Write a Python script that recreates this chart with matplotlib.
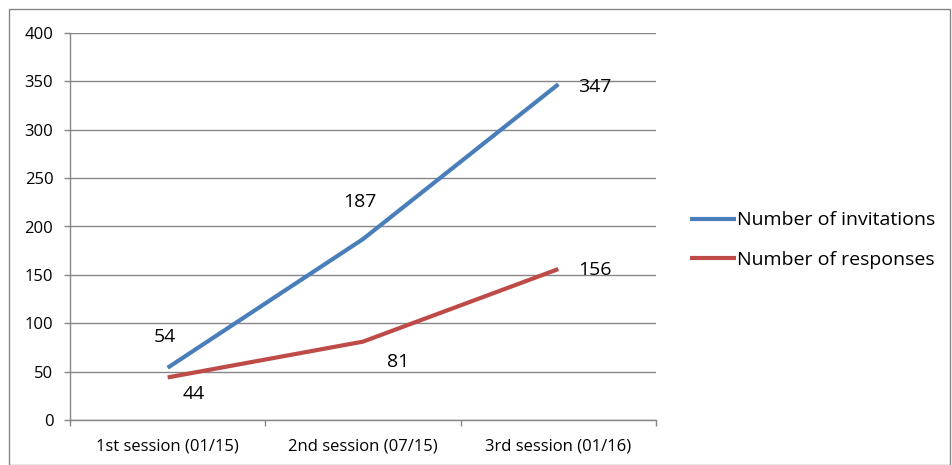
import numpy as np
import matplotlib.pyplot as plt
from matplotlib.patches import Rectangle

# Данные по сессиям
sessions = ['1st session (01/15)', '2nd session (07/15)', '3rd session (01/16)']
invitations = [54, 187, 347]
responses = [44, 81, 156]

blue = '#4A7EBB'
red = '#BE4B48'
grid_color = '#868686'

plt.rcParams['font.family'] = ['Open Sans', 'DejaVu Sans']

fig = plt.figure(figsize=(9.52, 4.65), dpi=100)
ax = fig.add_axes([70 / 952, 45 / 465, 586 / 952, 387 / 465])

x = np.arange(len(sessions))
ax.plot(x, invitations, color=blue, lw=3, solid_capstyle='butt', label='Number of invitations')
ax.plot(x, responses, color=red, lw=3, solid_capstyle='butt', label='Number of responses')

# Подписи значений
inv_offsets = [(-2, 22), (-2, 27), (26, -2)]
resp_offsets = [(19, -12), (25, -15), (26, -1)]
for xi, v, off in zip(x, invitations, inv_offsets):
    ax.annotate(str(v), (xi, v), xytext=off, textcoords='offset points',
                ha='center', va='center', fontsize=14)
for xi, v, off in zip(x, responses, resp_offsets):
    ax.annotate(str(v), (xi, v), xytext=off, textcoords='offset points',
                ha='center', va='center', fontsize=14)

ax.set_xlim(-0.5, 2.5)
ax.set_ylim(0, 400)
ax.set_yticks(range(0, 401, 50))
ax.set_xticks(x)
ax.set_xticklabels(sessions)
ax.set_xticks([-0.5, 0.5, 1.5, 2.5], minor=True)
ax.tick_params(axis='x', which='major', length=0, pad=13, labelsize=12)
ax.tick_params(axis='x', which='minor', length=4, color=grid_color, width=1)
ax.tick_params(axis='y', length=4, color=grid_color, width=1, labelsize=12, pad=8)

ax.grid(axis='y', color=grid_color, lw=1)
ax.set_axisbelow(True)
for side in ['top', 'right']:
    ax.spines[side].set_visible(False)
for side in ['left', 'bottom']:
    ax.spines[side].set_color(grid_color)
    ax.spines[side].set_linewidth(1)

ax.legend(loc='center left', bbox_to_anchor=(672 / 952, 225 / 465),
          bbox_transform=fig.transFigure, frameon=False, fontsize=14,
          handlelength=2.4, handletextpad=0.05, labelspacing=1.1)

# Рамка вокруг диаграммы
fig.patches.append(Rectangle((9 / 952, 0), 941 / 952, 456 / 465, transform=fig.transFigure,
                             fill=False, edgecolor=grid_color, lw=1))

fig.savefig('out.png', dpi=100)
